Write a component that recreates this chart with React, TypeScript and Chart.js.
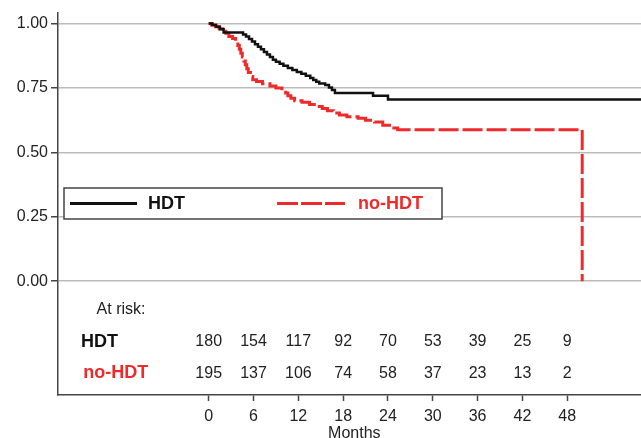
import React, { useEffect, useRef } from "react";
import { Chart, registerables } from "chart.js";

Chart.register(...registerables);

// Kaplan-Meier steps: time (months) and survival after the step
const hdtTimes = [0, 0.5, 1.0, 1.5, 2.0, 4.6, 5.0, 5.4, 5.8, 6.2, 6.6, 7.0, 7.4, 7.8, 8.2, 8.6, 9.0, 9.5, 10.0, 10.6, 11.2, 11.8, 12.4, 13.0, 13.6, 14.0, 14.4, 14.8, 15.6, 16.1, 16.5, 16.9, 22.0, 24.0, 57.9];
const hdtSurv = [1.0, 0.994, 0.988, 0.978, 0.965, 0.958, 0.95, 0.94, 0.93, 0.92, 0.91, 0.9, 0.89, 0.88, 0.87, 0.86, 0.852, 0.844, 0.836, 0.828, 0.82, 0.812, 0.805, 0.797, 0.789, 0.781, 0.774, 0.767, 0.762, 0.752, 0.742, 0.73, 0.72, 0.705, 0.705];

const noHdtTimes = [0, 0.4, 0.9, 1.4, 1.9, 2.3, 2.7, 3.2, 3.6, 3.9, 4.1, 4.3, 4.5, 4.7, 4.9, 5.1, 5.3, 5.6, 5.9, 6.4, 7.2, 8.2, 9.0, 9.8, 10.3, 10.6, 11.0, 11.5, 12.5, 13.5, 14.5, 15.2, 15.9, 16.7, 17.5, 18.5, 20.0, 21.0, 22.2, 23.3, 24.5, 25.3, 50.0];
const noHdtSurv = [1.0, 0.994, 0.988, 0.98, 0.97, 0.962, 0.95, 0.942, 0.93, 0.915, 0.9, 0.885, 0.87, 0.855, 0.84, 0.825, 0.81, 0.795, 0.782, 0.775, 0.766, 0.758, 0.75, 0.74, 0.73, 0.72, 0.71, 0.7, 0.695, 0.686, 0.678, 0.67, 0.662, 0.653, 0.645, 0.638, 0.632, 0.625, 0.618, 0.605, 0.595, 0.588, 0.0];

const xTicks = [0, 6, 12, 18, 24, 30, 36, 42, 48];
const yTicks = [0, 0.25, 0.5, 0.75, 1.0];
const atRiskHdt = [180, 154, 117, 92, 70, 53, 39, 25, 9];
const atRiskNoHdt = [195, 137, 106, 74, 58, 37, 23, 13, 2];

const seriesNames = ["HDT", "no-HDT"];
const BLACK = "#111111";
const RED = "#ee2a2a";
const FONT = "'Liberation Sans', Arial, sans-serif";

const overlayPlugin = {
  id: "kmOverlay",
  afterDraw(chart: any) {
    const ctx = chart.ctx;
    const xs = chart.scales.x;
    const ys = chart.scales.y;
    ctx.save();
    // At-risk table
    ctx.textBaseline = "middle";
    ctx.textAlign = "left";
    ctx.fillStyle = "#222";
    ctx.font = `16px ${FONT}`;
    ctx.fillText("At risk:", xs.getPixelForValue(-15.0), ys.getPixelForValue(-0.109));
    ctx.font = `bold 18px ${FONT}`;
    ctx.fillStyle = BLACK;
    ctx.fillText(seriesNames[0], xs.getPixelForValue(-17.1), ys.getPixelForValue(-0.236));
    ctx.fillStyle = RED;
    ctx.fillText(seriesNames[1], xs.getPixelForValue(-16.8), ys.getPixelForValue(-0.357));
    ctx.textAlign = "center";
    ctx.font = `16px ${FONT}`;
    ctx.fillStyle = "#222";
    xTicks.forEach((t, i) => {
      ctx.fillText(String(atRiskHdt[i]), xs.getPixelForValue(t), ys.getPixelForValue(-0.236));
      ctx.fillText(String(atRiskNoHdt[i]), xs.getPixelForValue(t), ys.getPixelForValue(-0.357));
    });
    // Axis title
    ctx.fillStyle = "#222";
    ctx.fillText("Months", xs.getPixelForValue(19.5), 434);
    // Legend
    const bx = 64, by = 188, bw = 378, bh = 31;
    ctx.fillStyle = "#fff";
    ctx.fillRect(bx, by, bw, bh);
    ctx.strokeStyle = "#444";
    ctx.lineWidth = 1.5;
    ctx.strokeRect(bx, by, bw, bh);
    const ly = by + bh / 2;
    ctx.strokeStyle = BLACK;
    ctx.lineWidth = 3;
    ctx.beginPath();
    ctx.moveTo(70, ly);
    ctx.lineTo(137, ly);
    ctx.stroke();
    ctx.strokeStyle = RED;
    ctx.setLineDash([21, 3]);
    ctx.beginPath();
    ctx.moveTo(277, ly);
    ctx.lineTo(345, ly);
    ctx.stroke();
    ctx.setLineDash([]);
    ctx.textAlign = "left";
    ctx.font = `bold 18px ${FONT}`;
    ctx.fillStyle = BLACK;
    ctx.fillText(seriesNames[0], 148, ly + 1);
    ctx.fillStyle = RED;
    ctx.fillText(seriesNames[1], 358, ly + 1);
    ctx.restore();
  },
};

export default function App() {
  const ref = useRef<HTMLCanvasElement | null>(null);
  useEffect(() => {
    document.body.style.margin = "0";
    const canvas = ref.current!;
    const chart = new Chart(canvas, {
      type: "line",
      data: {
        datasets: [
          {
            label: seriesNames[0],
            data: hdtTimes.map((t, i) => ({ x: t, y: hdtSurv[i] })),
            borderColor: BLACK,
            borderWidth: 2.5,
            stepped: "before",
            pointRadius: 0,
            fill: false,
          },
          {
            label: seriesNames[1],
            data: noHdtTimes.map((t, i) => ({ x: t, y: noHdtSurv[i] })),
            borderColor: RED,
            borderWidth: 3,
            borderDash: [20, 4],
            stepped: "before",
            pointRadius: 0,
            fill: false,
          },
        ],
      },
      options: {
        animation: false,
        responsive: false,
        maintainAspectRatio: false,
        layout: { padding: { top: 12, right: 0, left: 0, bottom: 0 } },
        plugins: { legend: { display: false }, tooltip: { enabled: false } },
        scales: {
          x: {
            type: "linear",
            min: -20.17,
            max: 57.87,
            afterBuildTicks: (s: any) => {
              s.ticks = xTicks.map((v) => ({ value: v }));
            },
            afterFit: (s: any) => {
              s.height = 43;
            },
            grid: { drawOnChartArea: false, drawTicks: true, tickLength: 6, tickColor: "#444", tickWidth: 1.5 },
            border: { color: "#444", width: 1.5 },
            ticks: {
              color: "#222",
              font: { family: FONT, size: 16 },
              padding: 6,
              maxRotation: 0,
              autoSkip: false,
            },
          },
          y: {
            type: "linear",
            min: -0.4419,
            max: 1.0426,
            afterBuildTicks: (s: any) => {
              s.ticks = yTicks.map((v) => ({ value: v }));
            },
            afterFit: (s: any) => {
              s.width = 58;
            },
            grid: { color: "#bbbbbb", lineWidth: 1.5, drawTicks: true, tickLength: 7, tickColor: "#444", tickWidth: 1.5 },
            border: { color: "#444", width: 1.5 },
            ticks: {
              color: "#222",
              font: { family: FONT, size: 16 },
              padding: 3,
              autoSkip: false,
              callback: (v: any) => Number(v).toFixed(2),
            },
          },
        },
      },
      plugins: [overlayPlugin],
    });
    return () => chart.destroy();
  }, []);
  return (
    <div style={{ position: "absolute", left: 0, top: 0, width: 641, height: 438 }}>
      <canvas ref={ref} width={641} height={438} style={{ width: 641, height: 438, display: "block" }} />
    </div>
  );
}
